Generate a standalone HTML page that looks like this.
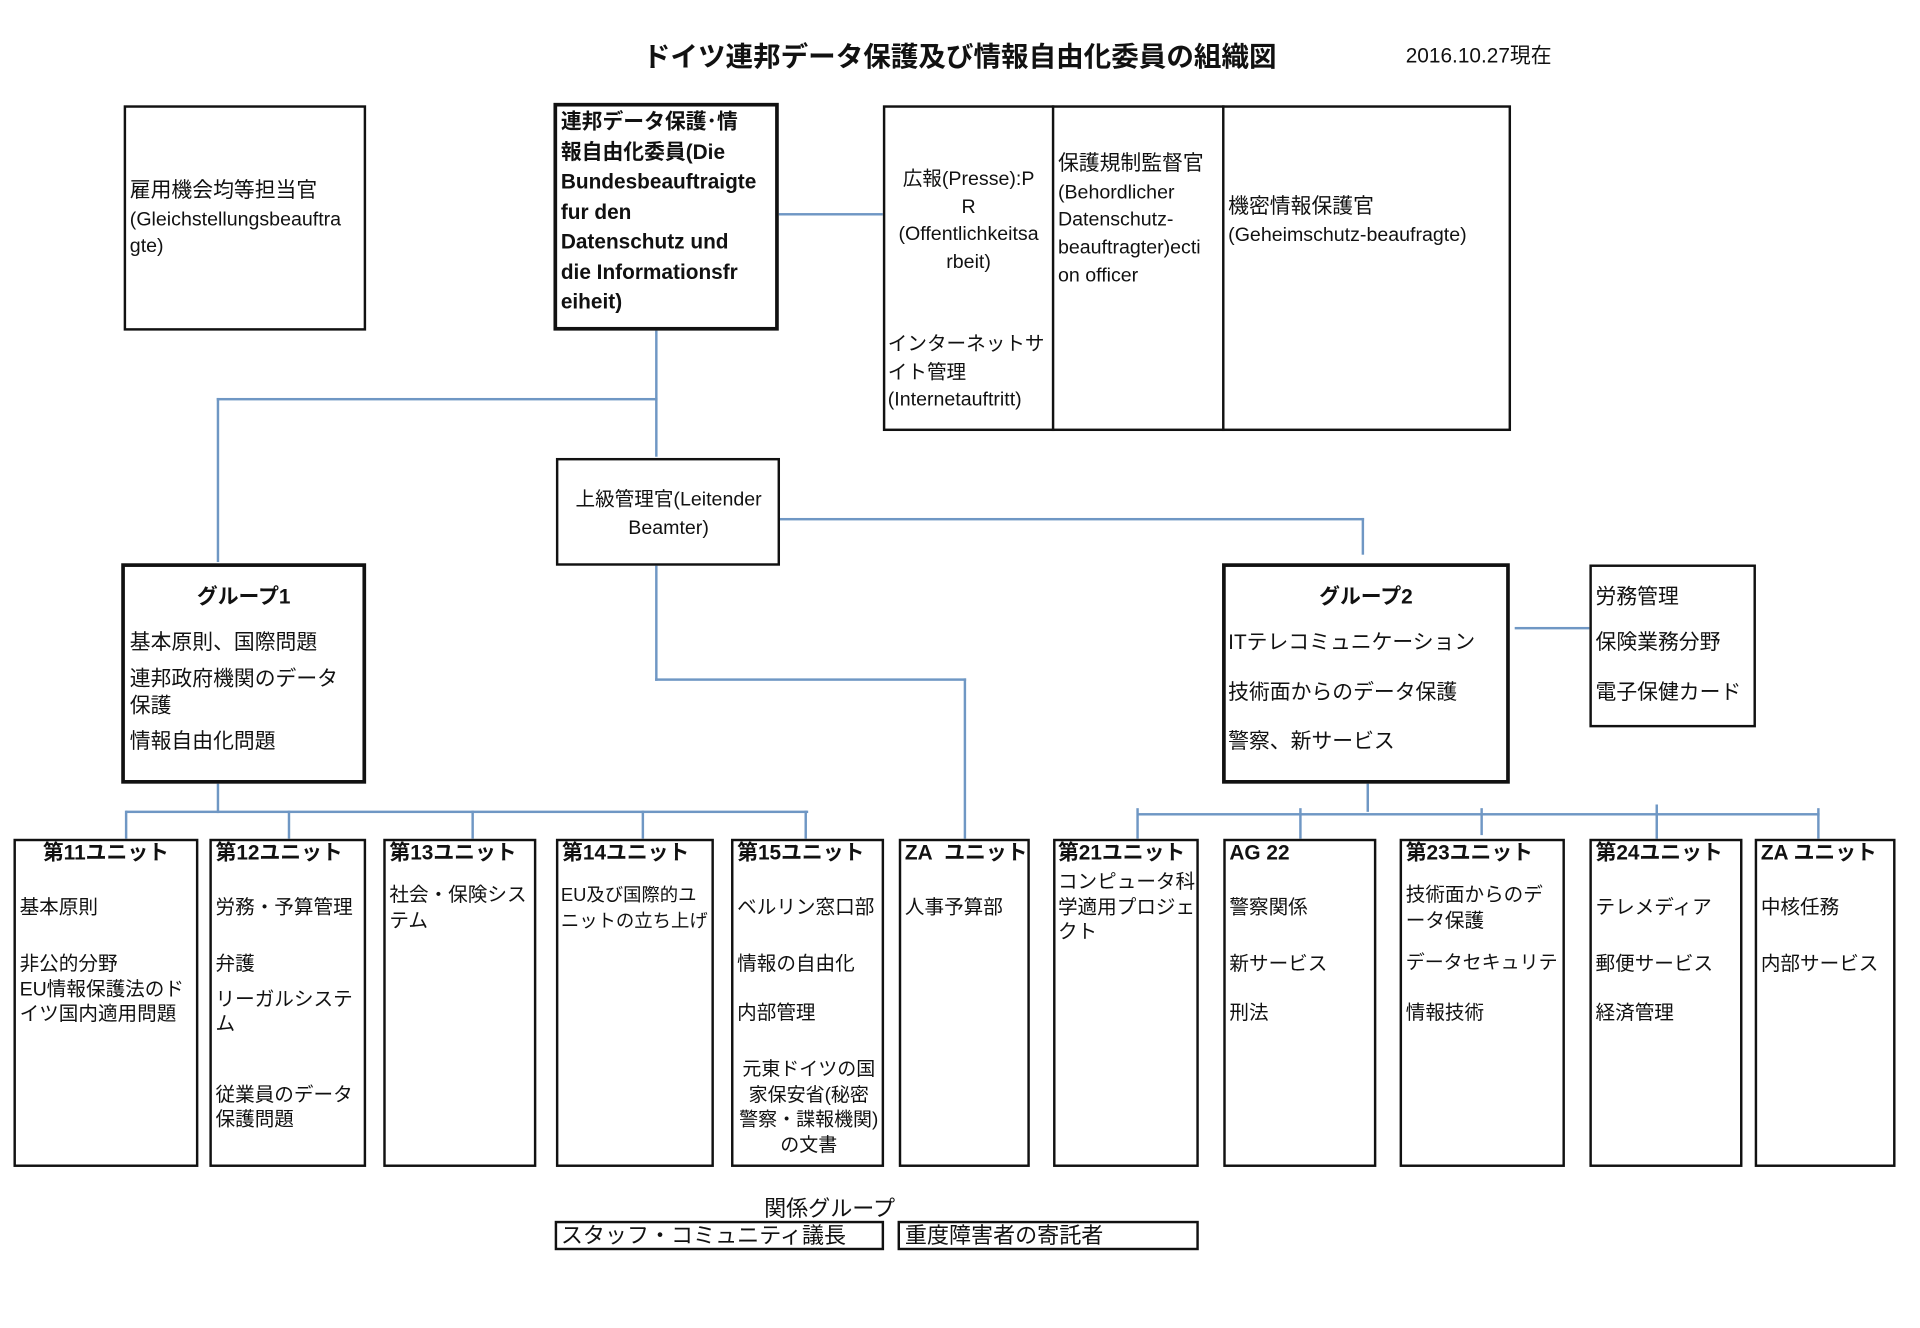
<!DOCTYPE html>
<html><head><meta charset="utf-8"><style>
html,body{margin:0;padding:0;background:#fff;}
#w{width:1920px;height:1328px;overflow:hidden;position:relative;}
#c{position:absolute;left:0;top:0;width:1568px;height:1085px;transform:scale(1.2245);transform-origin:0 0;font-family:"Liberation Sans","Noto Sans CJK JP",sans-serif;color:#111;}
.b{position:absolute;border:2px solid #111;box-sizing:border-box;background:#fff;}
.k{border-width:3px;}
.t{position:absolute;white-space:nowrap;font-size:16px;line-height:20px;}
.m{font-size:17px;}
.h{font-weight:bold;font-size:17px;}
.ln{position:absolute;background:#6f97c4;}
</style></head><body><div id="w"><div id="c">
<div class="ln" style="left:635px;top:174px;width:86px;height:2px"></div>
<div class="ln" style="left:535px;top:269px;width:2px;height:104px"></div>
<div class="ln" style="left:177px;top:325px;width:360px;height:2px"></div>
<div class="ln" style="left:177px;top:325px;width:2px;height:134px"></div>
<div class="ln" style="left:636px;top:423px;width:478px;height:2px"></div>
<div class="ln" style="left:1112px;top:423px;width:2px;height:30px"></div>
<div class="ln" style="left:535px;top:461px;width:2px;height:95px"></div>
<div class="ln" style="left:535px;top:554px;width:254px;height:2px"></div>
<div class="ln" style="left:787px;top:554px;width:2px;height:131px"></div>
<div class="ln" style="left:1237px;top:512px;width:61px;height:2px"></div>
<div class="ln" style="left:177px;top:639px;width:2px;height:25px"></div>
<div class="ln" style="left:103px;top:662px;width:557px;height:2px"></div>
<div class="ln" style="left:102px;top:662px;width:2px;height:23px"></div>
<div class="ln" style="left:235px;top:662px;width:2px;height:23px"></div>
<div class="ln" style="left:385px;top:662px;width:2px;height:23px"></div>
<div class="ln" style="left:524px;top:662px;width:2px;height:23px"></div>
<div class="ln" style="left:657px;top:662px;width:2px;height:23px"></div>
<div class="ln" style="left:1116px;top:639px;width:2px;height:24px"></div>
<div class="ln" style="left:929px;top:664px;width:557px;height:2px"></div>
<div class="ln" style="left:928px;top:660px;width:2px;height:25px"></div>
<div class="ln" style="left:1061px;top:660px;width:2px;height:25px"></div>
<div class="ln" style="left:1209px;top:660px;width:2px;height:22px"></div>
<div class="ln" style="left:1352px;top:657px;width:2px;height:28px"></div>
<div class="ln" style="left:1484px;top:660px;width:2px;height:25px"></div>

<div class="t" style="left:525px;top:33px;font-size:22.5px;line-height:28px;font-weight:bold">ドイツ連邦データ保護及び情報自由化委員の組織図</div>
<div class="t" style="left:1148px;top:36px;font-size:17px">2016.10.27現在</div>

<div class="b" style="left:101px;top:86px;width:198px;height:184px"></div>
<div class="t m" style="left:106px;top:146px">雇用機会均等担当官</div>
<div class="t" style="left:106px;top:170px">(Gleichstellungsbeauftra</div>
<div class="t" style="left:106px;top:192px">gte)</div>

<div class="b k" style="left:452px;top:84px;width:184px;height:186px"></div>
<div class="t" style="left:458px;top:88px;font-weight:bold;font-size:17px;line-height:24.5px">連邦データ保護･情<br>報自由化委員(Die<br>Bundesbeauftraigte<br>fur den<br>Datenschutz und<br>die Informationsfr<br>eiheit)</div>

<div class="b" style="left:721px;top:86px;width:513px;height:266px"></div>
<div class="b" style="left:859px;top:86px;width:2px;height:266px;border:none;background:#111"></div>
<div class="b" style="left:998px;top:86px;width:2px;height:266px;border:none;background:#111"></div>
<div class="t" style="left:723px;top:136px;width:136px;text-align:center;line-height:22.5px">広報(Presse):P<br>R<br>(Offentlichkeitsa<br>rbeit)</div>
<div class="t" style="left:725px;top:271px;line-height:22.5px">インターネットサ<br>イト管理<br>(Internetauftritt)</div>
<div class="t" style="left:864px;top:123px;line-height:22.7px"><span class="m">保護規制監督官</span><br>(Behordlicher<br>Datenschutz-<br>beauftragter)ecti<br>on officer</div>
<div class="t" style="left:1003px;top:157px;line-height:23px"><span class="m">機密情報保護官</span><br>(Geheimschutz-beaufragte)</div>

<div class="b" style="left:454px;top:374px;width:183px;height:88px"></div>
<div class="t" style="left:455px;top:397px;width:182px;text-align:center;line-height:23px">上級管理官(Leitender<br>Beamter)</div>

<div class="b k" style="left:99px;top:460px;width:200px;height:180px"></div>
<div class="t h" style="left:99px;top:478px;width:200px;text-align:center">グループ1</div>
<div class="t m" style="left:106px;top:515px">基本原則、国際問題</div>
<div class="t m" style="left:106px;top:544px;line-height:22px">連邦政府機関のデータ<br>保護</div>
<div class="t m" style="left:106px;top:596px">情報自由化問題</div>

<div class="b k" style="left:998px;top:460px;width:235px;height:180px"></div>
<div class="t h" style="left:998px;top:478px;width:235px;text-align:center">グループ2</div>
<div class="t m" style="left:1003px;top:515px">ITテレコミュニケーション</div>
<div class="t m" style="left:1003px;top:556px">技術面からのデータ保護</div>
<div class="t m" style="left:1003px;top:596px">警察、新サービス</div>

<div class="b" style="left:1298px;top:461px;width:136px;height:133px"></div>
<div class="t m" style="left:1303px;top:478px">労務管理</div>
<div class="t m" style="left:1303px;top:515px">保険業務分野</div>
<div class="t m" style="left:1303px;top:556px">電子保健カード</div>

<div class="b" style="left:11px;top:685px;width:151px;height:268px"></div>
<div class="t h" style="left:11px;top:687px;width:151px;text-align:center">第11ユニット</div>
<div class="t" style="left:16px;top:732px">基本原則</div>
<div class="t" style="left:16px;top:778px;line-height:20.5px">非公的分野<br>EU情報保護法のド<br>イツ国内適用問題</div>

<div class="b" style="left:171px;top:685px;width:128px;height:268px"></div>
<div class="t h" style="left:176px;top:687px">第12ユニット</div>
<div class="t" style="left:176px;top:732px">労務・予算管理</div>
<div class="t" style="left:176px;top:778px">弁護</div>
<div class="t" style="left:176px;top:807px">リーガルシステ<br>ム</div>
<div class="t" style="left:176px;top:885px">従業員のデータ<br>保護問題</div>

<div class="b" style="left:313px;top:685px;width:125px;height:268px"></div>
<div class="t h" style="left:318px;top:687px">第13ユニット</div>
<div class="t" style="left:318px;top:721px;line-height:21px">社会・保険シス<br>テム</div>

<div class="b" style="left:454px;top:685px;width:129px;height:268px"></div>
<div class="t h" style="left:459px;top:687px">第14ユニット</div>
<div class="t" style="left:458px;top:721px;line-height:21px;font-size:15px">EU及び国際的ユ<br>ニットの立ち上げ</div>

<div class="b" style="left:597px;top:685px;width:125px;height:268px"></div>
<div class="t h" style="left:602px;top:687px">第15ユニット</div>
<div class="t" style="left:602px;top:732px">ベルリン窓口部</div>
<div class="t" style="left:602px;top:778px">情報の自由化</div>
<div class="t" style="left:602px;top:818px">内部管理</div>
<div class="t" style="left:599px;top:864px;width:123px;text-align:center;line-height:20.7px;font-size:15.5px">元東ドイツの国<br>家保安省(秘密<br>警察・諜報機関)<br>の文書</div>

<div class="b" style="left:734px;top:685px;width:107px;height:268px"></div>
<div class="t h" style="left:739px;top:687px">ZA&nbsp;&nbsp;ユニット</div>
<div class="t" style="left:739px;top:732px">人事予算部</div>

<div class="b" style="left:860px;top:685px;width:119px;height:268px"></div>
<div class="t h" style="left:864px;top:687px">第21ユニット</div>
<div class="t" style="left:864px;top:711px;line-height:20.5px">コンピュータ科<br>学適用プロジェ<br>クト</div>

<div class="b" style="left:999px;top:685px;width:125px;height:268px"></div>
<div class="t h" style="left:1004px;top:687px">AG 22</div>
<div class="t" style="left:1004px;top:732px">警察関係</div>
<div class="t" style="left:1004px;top:778px">新サービス</div>
<div class="t" style="left:1004px;top:818px">刑法</div>

<div class="b" style="left:1143px;top:685px;width:135px;height:268px"></div>
<div class="t h" style="left:1148px;top:687px">第23ユニット</div>
<div class="t" style="left:1148px;top:721px;line-height:21px">技術面からのデ<br>ータ保護</div>
<div class="t" style="left:1148px;top:777px;font-size:15.5px">データセキュリテ</div>
<div class="t" style="left:1148px;top:818px">情報技術</div>

<div class="b" style="left:1298px;top:685px;width:125px;height:268px"></div>
<div class="t h" style="left:1303px;top:687px">第24ユニット</div>
<div class="t" style="left:1303px;top:732px">テレメディア</div>
<div class="t" style="left:1303px;top:778px">郵便サービス</div>
<div class="t" style="left:1303px;top:818px">経済管理</div>

<div class="b" style="left:1433px;top:685px;width:115px;height:268px"></div>
<div class="t h" style="left:1438px;top:687px">ZA ユニット</div>
<div class="t" style="left:1438px;top:732px">中核任務</div>
<div class="t" style="left:1438px;top:778px">内部サービス</div>

<div class="t" style="left:624px;top:976px;font-size:18px;line-height:22px">関係グループ</div>
<div class="b" style="left:453px;top:997px;width:269px;height:24px"></div>
<div class="t" style="left:458px;top:998px;font-size:18px;line-height:22px">スタッフ・コミュニティ議長</div>
<div class="b" style="left:733px;top:997px;width:246px;height:24px"></div>
<div class="t" style="left:739px;top:998px;font-size:18px;line-height:22px">重度障害者の寄託者</div>
</div></div></body></html>
